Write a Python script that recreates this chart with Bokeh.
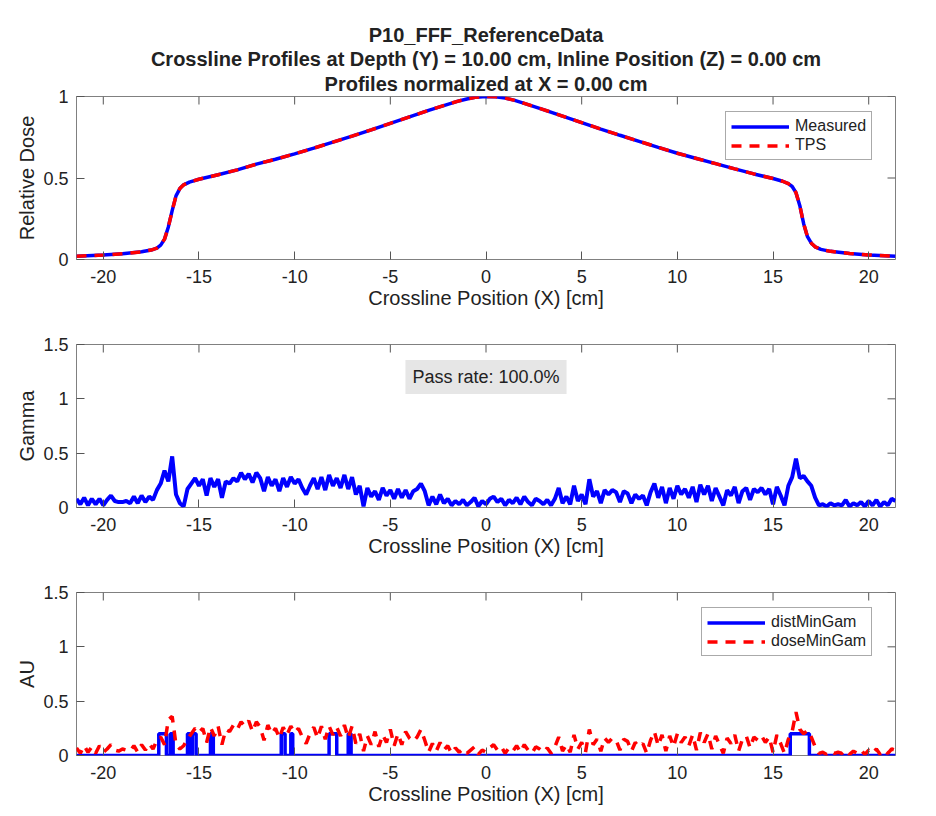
import numpy as np
from bokeh.plotting import figure
from bokeh.models import (Range1d, FixedTicker, CustomJSTickFormatter,
                          Legend, LegendItem, Label, Title)
from bokeh.layouts import column
from bokeh.embed import file_html
from bokeh.resources import INLINE

FONT = "Liberation Sans"

# ---------------- data ----------------
title_lines = ["P10_FFF_ReferenceData",
               "Crossline Profiles at Depth (Y) = 10.00 cm, Inline Position (Z) = 0.00 cm",
               "Profiles normalized at X = 0.00 cm"]
x_label = "Crossline Position (X) [cm]"
x_ticks = [-20, -15, -10, -5, 0, 5, 10, 15, 20]

profile_x = [-21.4, -20, -19, -18, -17.5, -17.2, -17.0, -16.8, -16.6, -16.4, -16.2, -16.0,
             -15.8, -15.5, -15.0, -14, -13, -12, -11, -10, -9, -8, -7, -6, -5, -4, -3, -2,
             -1.5, -1, -0.5, 0, 0.5, 1, 1.5, 2, 3, 4, 5, 6, 7, 8, 9, 10, 11, 12, 13, 14, 15,
             15.5, 15.8, 16.0, 16.2, 16.4, 16.6, 16.8, 17.0, 17.2, 17.5, 18, 19, 20, 21.4]
measured = [0.020, 0.027, 0.035, 0.047, 0.058, 0.070, 0.088, 0.125, 0.20, 0.30, 0.39, 0.435,
            0.458, 0.475, 0.492, 0.52, 0.55, 0.585, 0.615, 0.648, 0.683, 0.72, 0.757, 0.795,
            0.835, 0.875, 0.915, 0.952, 0.97, 0.985, 0.996, 1.0, 0.998, 0.99, 0.976, 0.958,
            0.92, 0.88, 0.84, 0.80, 0.762, 0.725, 0.688, 0.652, 0.62, 0.588, 0.556, 0.525,
            0.497, 0.48, 0.465, 0.448, 0.41, 0.33, 0.22, 0.14, 0.10, 0.078, 0.062, 0.05,
            0.037, 0.028, 0.02]
tps = [0.020, 0.027, 0.035, 0.047, 0.058, 0.070, 0.088, 0.125, 0.20, 0.30, 0.39, 0.435,
       0.458, 0.475, 0.492, 0.52, 0.55, 0.585, 0.615, 0.648, 0.683, 0.72, 0.757, 0.795,
       0.835, 0.875, 0.915, 0.952, 0.97, 0.985, 0.996, 1.0, 0.998, 0.99, 0.976, 0.958,
       0.92, 0.88, 0.84, 0.80, 0.762, 0.725, 0.688, 0.652, 0.62, 0.588, 0.556, 0.525,
       0.497, 0.48, 0.465, 0.448, 0.41, 0.33, 0.22, 0.14, 0.10, 0.078, 0.062, 0.05,
       0.037, 0.028, 0.02]

# gamma sample positions: -21.4 ... 21.4 cm every 0.2 cm
gamma_x = list(np.round(np.arange(-21.4, 21.41, 0.2), 2))
gamma = [0.08, 0.03, 0.09, 0.02, 0.08, 0.03, 0.08, 0.02, 0.07, 0.11,
         0.06, 0.05, 0.05, 0.06, 0.04, 0.10, 0.04, 0.11, 0.05, 0.10,
         0.07, 0.16, 0.22, 0.34, 0.24, 0.47, 0.12, 0.04, 0.01, 0.17,
         0.22, 0.27, 0.20, 0.26, 0.11, 0.27, 0.19, 0.26, 0.09, 0.24,
         0.22, 0.27, 0.24, 0.32, 0.26, 0.31, 0.23, 0.32, 0.27, 0.15,
         0.28, 0.20, 0.26, 0.15, 0.27, 0.19, 0.28, 0.22, 0.26, 0.18,
         0.12, 0.20, 0.27, 0.17, 0.28, 0.16, 0.30, 0.20, 0.27, 0.18,
         0.30, 0.17, 0.28, 0.12, 0.20, 0.01, 0.18, 0.10, 0.15, 0.07,
         0.18, 0.11, 0.16, 0.08, 0.17, 0.09, 0.16, 0.08, 0.15, 0.17,
         0.22, 0.15, 0.02, 0.10, 0.03, 0.12, 0.04, 0.08, 0.02, 0.06,
         0.03, 0.07, 0.02, 0.05, 0.09, 0.01, 0.06, 0.03, 0.08, 0.10,
         0.05, 0.08, 0.02, 0.07, 0.04, 0.09, 0.03, 0.10, 0.05, 0.02,
         0.08, 0.06, 0.03, 0.07, 0.02, 0.08, 0.18, 0.04, 0.10, 0.03,
         0.20, 0.06, 0.12, 0.03, 0.26, 0.10, 0.15, 0.04, 0.16, 0.12,
         0.16, 0.14, 0.05, 0.15, 0.13, 0.04, 0.12, 0.08, 0.11, 0.02,
         0.14, 0.22, 0.09, 0.19, 0.04, 0.18, 0.08, 0.20, 0.12, 0.17,
         0.09, 0.19, 0.05, 0.21, 0.12, 0.20, 0.06, 0.18, 0.10, 0.02,
         0.16, 0.11, 0.19, 0.04, 0.15, 0.18, 0.07, 0.17, 0.14, 0.18,
         0.12, 0.17, 0.03, 0.19, 0.11, 0.02, 0.20, 0.28, 0.45, 0.27,
         0.29, 0.24, 0.20, 0.09, 0.02, 0.03, 0.01, 0.04, 0.02, 0.03,
         0.02, 0.07, 0.01, 0.04, 0.02, 0.05, 0.01, 0.06, 0.02, 0.07,
         0.01, 0.05, 0.02, 0.08, 0.06]

dose_min_gam = [0.07, 0.02, 0.09, 0.03, 0.08, 0.02, 0.09, 0.03, 0.06, 0.10,
                0.05, 0.04, 0.06, 0.05, 0.04, 0.09, 0.03, 0.10, 0.05, 0.11,
                0.06, 0.14, 0.17, 0.10, 0.33, 0.36, 0.10, 0.06, 0.09, 0.15,
                0.20, 0.25, 0.21, 0.25, 0.12, 0.26, 0.18, 0.27, 0.10, 0.24,
                0.22, 0.28, 0.24, 0.31, 0.27, 0.32, 0.22, 0.31, 0.26, 0.14,
                0.28, 0.20, 0.25, 0.16, 0.26, 0.19, 0.27, 0.21, 0.25, 0.17,
                0.11, 0.20, 0.26, 0.16, 0.27, 0.15, 0.27, 0.19, 0.26, 0.18,
                0.28, 0.16, 0.27, 0.11, 0.20, 0.04, 0.18, 0.10, 0.22, 0.08,
                0.19, 0.12, 0.24, 0.09, 0.20, 0.10, 0.22, 0.16, 0.13, 0.17,
                0.24, 0.14, 0.03, 0.11, 0.04, 0.12, 0.05, 0.09, 0.02, 0.07,
                0.03, 0.06, 0.02, 0.05, 0.08, 0.01, 0.05, 0.03, 0.07, 0.10,
                0.05, 0.08, 0.02, 0.07, 0.04, 0.09, 0.03, 0.10, 0.05, 0.02,
                0.08, 0.06, 0.03, 0.07, 0.02, 0.08, 0.17, 0.04, 0.10, 0.03,
                0.19, 0.06, 0.12, 0.03, 0.24, 0.10, 0.15, 0.04, 0.16, 0.12,
                0.16, 0.14, 0.05, 0.15, 0.13, 0.04, 0.12, 0.08, 0.11, 0.02,
                0.14, 0.22, 0.09, 0.19, 0.04, 0.18, 0.08, 0.20, 0.12, 0.17,
                0.09, 0.19, 0.05, 0.21, 0.12, 0.20, 0.06, 0.18, 0.10, 0.02,
                0.16, 0.11, 0.19, 0.04, 0.15, 0.18, 0.07, 0.17, 0.14, 0.18,
                0.12, 0.17, 0.03, 0.19, 0.11, 0.02, 0.15, 0.22, 0.40, 0.24,
                0.20, 0.23, 0.17, 0.08, 0.02, 0.03, 0.01, 0.04, 0.02, 0.03,
                0.02, 0.05, 0.01, 0.04, 0.02, 0.05, 0.01, 0.05, 0.02, 0.06,
                0.01, 0.05, 0.02, 0.06, 0.05]

dist_x = [-21.4, -17.1, -17.1, -16.7, -16.7, -16.5, -16.5, -16.35, -16.35,
          -15.6, -15.6, -15.45, -15.45, -15.35, -15.35, -15.15, -15.15,
          -14.4, -14.4, -14.25, -14.25, -10.7, -10.7, -10.5, -10.5, -10.2, -10.2,
          -10.1, -10.1, -8.2, -8.2, -7.8, -7.8, -7.2, -7.2, -7.05, -7.05,
          15.9, 15.9, 16.9, 16.9, 21.4]
dist_min_gam = [0, 0, 0.2, 0.2, 0, 0, 0.2, 0.2, 0,
                0, 0.2, 0.2, 0, 0, 0.2, 0.2, 0,
                0, 0.2, 0.2, 0, 0, 0.2, 0.2, 0, 0, 0.2,
                0.2, 0, 0, 0.2, 0.2, 0, 0, 0.2, 0.2, 0,
                0, 0.2, 0.2, 0, 0]

pass_rate_text = "Pass rate: 100.0%"

# ---------------- styling helpers ----------------
X_MIN, X_MAX = -21.4, 21.4
BLUE = "#0000ff"
RED = "#ff0000"
BOX = "#808080"
TICK = "#555555"
TXT = "#222222"

fmt = CustomJSTickFormatter(code="return String(Math.round(tick*10)/10);")


def style_axis(ax, ticks):
    ax.ticker = FixedTicker(ticks=ticks)
    ax.formatter = fmt
    ax.axis_line_color = None
    ax.major_tick_in = 8
    ax.major_tick_out = 0
    ax.major_tick_line_color = TICK
    ax.minor_tick_line_color = None
    ax.major_label_text_font = FONT
    ax.major_label_text_color = TXT
    ax.major_label_text_font_size = "18px"
    ax.axis_label_text_font = FONT
    ax.axis_label_text_color = TXT
    ax.axis_label_text_font_style = "normal"
    ax.axis_label_text_font_size = "20px"


def make_fig(height, top, bottom, y_end, y_ticks, ylabel):
    p = figure(width=936, height=height, x_range=Range1d(X_MIN, X_MAX),
               y_range=Range1d(0, y_end), output_backend="svg", toolbar_location=None,
               min_border_left=76, min_border_right=41, min_border_top=top,
               min_border_bottom=bottom)
    p.grid.visible = False
    p.outline_line_color = BOX
    p.outline_line_width = 1
    p.xaxis.axis_label = x_label
    p.yaxis.axis_label = ylabel
    style_axis(p.xaxis[0], x_ticks)
    style_axis(p.yaxis[0], y_ticks)
    p.xaxis[0].major_label_standoff = 10
    p.xaxis[0].axis_label_standoff = 1
    p.yaxis[0].major_label_standoff = 8
    p.yaxis[0].axis_label_standoff = 2
    # mirrored inward ticks on the top and right edges of the box
    p.ray(x=x_ticks, y=[y_end] * len(x_ticks), length=8, length_units="screen",
          angle=-np.pi / 2, line_color=TICK, line_width=1)
    p.ray(x=[X_MAX] * len(y_ticks), y=y_ticks, length=8, length_units="screen",
          angle=np.pi, line_color=TICK, line_width=1)
    return p


def make_legend(items, loc):
    lg = Legend(items=items, location=loc, label_text_font=FONT,
                label_text_font_size="16px", label_text_color=TXT,
                glyph_width=58, glyph_height=17, label_height=17, spacing=1,
                padding=5, margin=0, label_standoff=6,
                border_line_color="#555555", border_line_width=1,
                background_fill_color="white", background_fill_alpha=1)
    return lg


# ---------------- top: profiles ----------------
p1 = make_fig(315, 96, 56, 1.0, [0, 0.5, 1], "Relative Dose")
p1.title = None
for i, line in enumerate(reversed(title_lines)):
    p1.add_layout(Title(text=line, align="center", text_font=FONT,
                        standoff=3 if i == 0 else 0,
                        text_font_size="20px", text_font_style="bold",
                        text_color=TXT), "above")
r_meas = p1.line(profile_x, measured, line_color=BLUE, line_width=3.5)
r_tps = p1.line(profile_x, tps, line_color=RED, line_width=3.5, line_dash="10 8")
p1.add_layout(make_legend([LegendItem(label="Measured", renderers=[r_meas]),
                           LegendItem(label="TPS", renderers=[r_tps])], (649, 99)))

# ---------------- middle: gamma ----------------
p2 = make_fig(248, 29, 56, 1.5, [0, 0.5, 1, 1.5], "Gamma")
p2.line(gamma_x, gamma, line_color=BLUE, line_width=4)
p2.add_layout(Label(x=0, y=1.2, text=pass_rate_text, text_align="center",
                    text_baseline="middle", text_font=FONT, text_font_size="18px",
                    text_color=TXT, background_fill_color="#e6e6e6", padding=7))

# ---------------- bottom: components ----------------
p3 = make_fig(253, 29, 61, 1.5, [0, 0.5, 1, 1.5], "AU")
r_dist = p3.line(dist_x, dist_min_gam, line_color=BLUE, line_width=3.5)
r_dose = p3.line(gamma_x, dose_min_gam, line_color=RED, line_width=3.5, line_dash="10 8")
p3.add_layout(make_legend([LegendItem(label="distMinGam", renderers=[r_dist]),
                           LegendItem(label="doseMinGam", renderers=[r_dose])], (625, 99)))

layout = column(p1, p2, p3, spacing=0)
open("out.html", "w").write(file_html(layout, INLINE))
